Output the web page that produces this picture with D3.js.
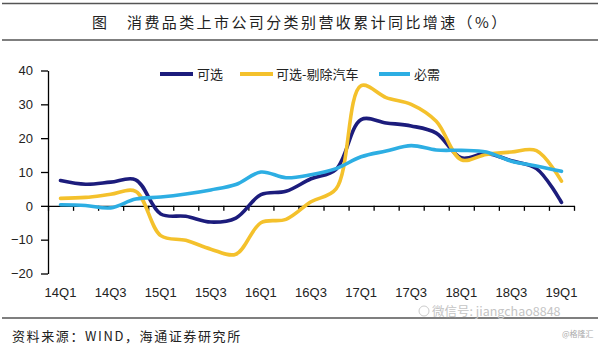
<!DOCTYPE html>
<html><head><meta charset="utf-8">
<script src="https://cdn.jsdelivr.net/npm/d3@7"></script>
<style>
html,body{margin:0;padding:0;background:#fff;}
svg{display:block;}
.cjk{font-family:"Noto Sans CJK SC","Noto Sans",sans-serif;}
.lat{font-family:"Liberation Sans",Arial,sans-serif;}
</style></head>
<body>
<svg id="chart" width="600" height="344"></svg>
<script>
const quarters = ["14Q1","14Q2","14Q3","14Q4","15Q1","15Q2","15Q3","15Q4","16Q1","16Q2","16Q3","16Q4","17Q1","17Q2","17Q3","17Q4","18Q1","18Q2","18Q3","18Q4","19Q1"];
const kexuan = [7.5,6.4,7.0,7.7,-2.4,-3.1,-4.8,-3.6,3.3,4.3,8.0,10.8,25.5,24.5,23.6,21.5,14.2,15.5,13.3,11.0,1.0];
const kexuanExAuto = [2.2,2.5,3.4,4.3,-8.8,-10.2,-12.8,-14.3,-5.0,-4.0,1.2,5.0,35.5,32.0,30.0,25.0,13.6,15.2,15.9,16.3,7.3];
const bixu = [0.3,0.1,-0.6,2.0,2.6,3.5,4.7,6.3,10.0,8.3,9.2,11.0,14.5,16.2,17.8,16.5,16.4,15.9,13.2,11.8,10.2];
const yTicks = [-20,-10,0,10,20,30,40];
const seriesNames = ["可选","可选-剔除汽车","必需"];
const colors = ["#1c1c7c","#f4c12c","#2daee3"];
const titleFig = "图";
const titleText = "消费品类上市公司分类别营收累计同比增速（%）";
const sourceText = "资料来源：WIND，海通证券研究所";

const svg = d3.select("#chart");
svg.append("rect").attr("width",600).attr("height",344).attr("fill","#fff");

// header rules and title
svg.append("line").attr("x1",2).attr("x2",598).attr("y1",3.5).attr("y2",3.5).attr("stroke","#555").attr("stroke-width",1.5);
svg.append("line").attr("x1",2).attr("x2",598).attr("y1",40).attr("y2",40).attr("stroke","#555").attr("stroke-width",1.5);
svg.append("text").attr("class","cjk").attr("x",92).attr("y",28).attr("font-size",15).attr("fill","#222").text(titleFig);
svg.append("text").attr("class","cjk").attr("x",127).attr("y",28).attr("font-size",15).attr("letter-spacing",2.4).attr("fill","#222").text(titleText);

const x = d3.scaleBand().domain(quarters).range([48,574]).padding(0);
const xb = d3.scaleLinear().domain([0,quarters.length]).range([48,574]);
const y = d3.scaleLinear().domain([-20,40]).range([273.5,70.5]);

// y axis
const gy = svg.append("g").attr("transform","translate(48,0)")
  .call(d3.axisLeft(y).tickValues(yTicks).tickSize(7).tickSizeOuter(0).tickPadding(8).tickFormat(d3.format("d")));
gy.selectAll("text").attr("class","lat").attr("font-size",13).attr("fill","#222");
gy.selectAll("line,path").attr("stroke","#000").attr("stroke-width",1.3);

// x axis line at zero with boundary ticks
const gx = svg.append("g").attr("transform",`translate(0,${y(0)})`)
  .call(d3.axisBottom(xb).tickValues(d3.range(0,quarters.length+1)).tickSize(5).tickSizeOuter(0).tickFormat(""));
gx.selectAll("line,path").attr("stroke","#000").attr("stroke-width",1.3);

// x labels
const gl = svg.append("g").attr("transform","translate(0,284)")
  .call(d3.axisBottom(x).tickSize(0).tickPadding(4).tickFormat((d,i)=> i%2===0 ? d : ""));
gl.select(".domain").remove();
gl.selectAll("text").attr("class","lat").attr("font-size",13).attr("fill","#222");

// lines
const data = [kexuan,kexuanExAuto,bixu];
const line = d3.line().x((d,i)=>x(quarters[i])+x.bandwidth()/2).y(d=>y(d)).curve(d3.curveCatmullRom.alpha(0.5));
[0,1,2].forEach(k=>{
  svg.append("path").datum(data[k]).attr("d",line).attr("fill","none")
    .attr("stroke",colors[k]).attr("stroke-width",3.6).attr("stroke-linecap","round").attr("stroke-linejoin","round");
});
// legend
const legendX = [[160,193,197],[240,273,276],[379,410,414]];
legendX.forEach((p,k)=>{
  svg.append("line").attr("x1",p[0]).attr("x2",p[1]).attr("y1",74).attr("y2",74).attr("stroke",colors[k]).attr("stroke-width",4);
  svg.append("text").attr("class","cjk").attr("x",p[2]).attr("y",78.5).attr("font-size",13).attr("fill","#222").text(seriesNames[k]);
});

// footer
svg.append("line").attr("x1",2).attr("x2",598).attr("y1",318).attr("y2",318).attr("stroke","#555").attr("stroke-width",1.5);
svg.append("text").attr("class","cjk").attr("x",12).attr("y",340.5).attr("font-size",13).attr("letter-spacing",1.6).attr("fill","#222").text(sourceText);
// watermark
svg.append("circle").attr("cx",424).attr("cy",311).attr("r",5).attr("fill","none").attr("stroke","#ccc").attr("stroke-width",1);
svg.append("text").attr("class","cjk").attr("x",432).attr("y",316).attr("font-size",12.5).attr("fill","#c4c4c4").text("微信号: jiangchao8848");
svg.append("text").attr("class","cjk").attr("x",562).attr("y",337).attr("font-size",8).attr("fill","#aaa").text("@格隆汇");
</script>
</body></html>
